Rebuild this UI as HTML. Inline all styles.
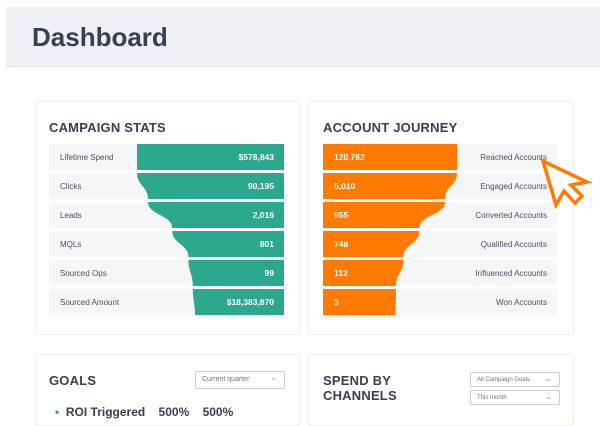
<!DOCTYPE html>
<html><head><meta charset="utf-8"><style>
body{margin:0;width:600px;height:413px;overflow:hidden;background:#fff;font-family:"Liberation Sans",sans-serif;position:relative}
.hdr{position:absolute;left:6px;top:7px;width:594px;height:59px;background:#eff1f5;border-bottom:1px solid #e2e5ec}
.hdr h1{margin:0;position:absolute;left:26px;top:15px;font-size:26px;font-weight:bold;color:#363f55}
.card{position:absolute;background:#fff;border:1px solid #eceef2;border-radius:4px;box-shadow:0 0 3px rgba(0,0,0,.04)}
.title{position:absolute;font-size:13px;font-weight:bold;color:#363f55;letter-spacing:.2px}
.dd{position:absolute;border:1px solid #c9ccd3;border-radius:2px;font-size:7px;color:#6b7180;padding-left:6px;box-sizing:border-box;line-height:15px}
.dd:after{content:"⌄";position:absolute;right:7px;top:-2px;font-size:8px;color:#999}
svg{position:absolute;left:0;top:0}
</style></head><body>
<div class="hdr"><h1>Dashboard</h1></div>
<div class="card" style="left:35px;top:101px;width:263px;height:232px"></div>
<div class="card" style="left:308px;top:101px;width:264px;height:232px"></div>
<div class="card" style="left:35px;top:354px;width:263px;height:70px"></div>
<div class="card" style="left:308px;top:354px;width:264px;height:70px"></div>
<div class="title" style="left:49px;top:120px">CAMPAIGN STATS</div>
<div class="title" style="left:323px;top:120px">ACCOUNT JOURNEY</div>
<div class="title" style="left:49px;top:373px">GOALS</div>
<div class="title" style="left:323px;top:373px;line-height:15px">SPEND BY<br>CHANNELS</div>
<div class="dd" style="left:195px;top:371px;width:90px;height:18px;line-height:16px">Current quarter</div>
<div class="dd" style="left:470px;top:372px;width:90px;height:15px;font-size:6px">All Campaign Goals</div>
<div class="dd" style="left:470px;top:390px;width:90px;height:15px;font-size:6px">This month</div>
<div style="position:absolute;left:55px;top:405px;font-size:12px;font-weight:bold;color:#363f55;white-space:pre"><span style="color:#2aa88e">•</span>  ROI Triggered    500%    500%</div>
<svg id="c" width="600" height="413"></svg>
<script>
const campLabels=["Lifetime Spend","Clicks","Leads","MQLs","Sourced Ops","Sourced Amount"];
const campValues=["$578,843","90,195","2,016","801","99","$18,383,870"];
const campShare=[1,0.925,0.76,0.65,0.62,0.605];
const acctLabels=["Reached Accounts","Engaged Accounts","Converted Accounts","Qualified Accounts","Influenced Accounts","Won Accounts"];
const acctValues=["120,762","5,010","955","748","112","3"];
const acctShare=[1,0.91,0.72,0.6,0.545,0.54];
const NS="http://www.w3.org/2000/svg";
const svg=document.getElementById('c');
function mk(t,a){const e=document.createElementNS(NS,t);for(const k in a)e.setAttribute(k,a[k]);svg.appendChild(e);return e;}
const rowY=i=>144+i*29, RH=26;
function funnel(x0,x1,shares,labels,values,color,rightAligned,prefix){
  const W=x1-x0;
  shares.forEach((s,i)=>{
    const y=rowY(i);
    const bg=mk('rect',{x:x0,y:y,width:W,height:RH,fill:'#f5f6f8'});
    
    
    const top=i===0?s:shares[i-1];
    const wt=top*W, wb=s*W, m=y+RH/2;
    let d;
    if(rightAligned){const xt=x1-wt,xb=x1-wb;
      d=`M${xt},${y} L${x1},${y} L${x1},${y+RH} L${xb},${y+RH} C${xb},${m} ${xt},${m} ${xt},${y} Z`;}
    else{const xt=x0+wt,xb=x0+wb;
      d=`M${x0},${y} L${xt},${y} C${xt},${m} ${xb},${m} ${xb},${y+RH} L${x0},${y+RH} Z`;}
    const p=mk('path',{d:d,fill:color});
    
    
    const lab=mk('text',{x:rightAligned?x0+11:x1-10,y:y+16,'font-size':8,fill:'#4a5063','text-anchor':rightAligned?'start':'end','font-family':'Liberation Sans'});
    lab.textContent=labels[i];
    
    
    const v=mk('text',{x:rightAligned?x1-10:x0+11,y:y+16,'font-size':8.5,'font-weight':'bold',fill:'#fff','text-anchor':rightAligned?'end':'start','font-family':'Liberation Sans'});
    v.textContent=values[i];
    
    
  });
}
funnel(49,284,campShare.map(s=>s*147/235),campLabels,campValues,'#2ba88e',true,'campaign');
funnel(323,557,acctShare.map(s=>s*134/234),acctLabels,acctValues,'#ff7a00',false,'account');
const cur=mk('polygon',{points:'543,161 556,205 564,191 575,203 582,196 571,185 587,182',fill:'#fff',stroke:'#ff7a00','stroke-width':3.5,'stroke-linejoin':'miter'});


</script>
</body></html>
